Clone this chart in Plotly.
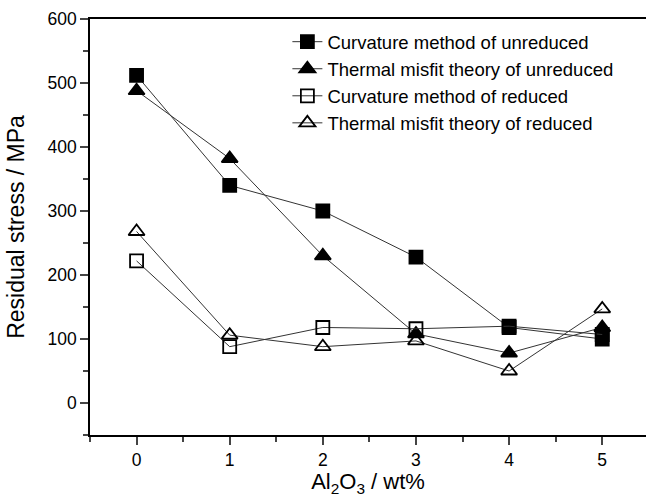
import plotly.graph_objects as go

x = [0, 1, 2, 3, 4, 5]
curv_unred = [512, 340, 300, 228, 118, 100]
therm_unred = [488, 382, 230, 108, 78, 118]
curv_red = [222, 88, 118, 116, 120, 107]
therm_red = [268, 106, 88, 97, 50, 147]

names = ["Curvature method of unreduced", "Thermal misfit theory of unreduced",
         "Curvature method of reduced", "Thermal misfit theory of reduced"]
series = [curv_unred, therm_unred, curv_red, therm_red]
symbols = ["square", "triangle-up", "square-open", "triangle-up-open"]
sizes = [13, 14, 13, 14]

fig = go.Figure()
for n, s, sym, sz in zip(names, series, symbols, sizes):
    fig.add_trace(go.Scatter(
        x=x, y=s, name=n, mode="lines+markers",
        line=dict(color="#333333", width=1),
        marker=dict(symbol=sym, size=sz, color="black",
                    line=dict(color="black", width=1.8)),
    ))

fig.update_layout(
    width=646, height=497,
    margin=dict(l=90, r=0, t=19, b=62),
    paper_bgcolor="white", plot_bgcolor="white",
    font=dict(family="Liberation Sans, Arial, sans-serif", color="black"),
    showlegend=True,
    legend=dict(x=0.355, y=0.99, xanchor="left", yanchor="top",
                font=dict(size=18.5), bgcolor="rgba(0,0,0,0)",
                tracegroupgap=0),
    xaxis=dict(range=[-0.5, 5.47], tickvals=[0, 1, 2, 3, 4, 5],
               showgrid=False, zeroline=False, showline=True, linecolor="black",
               linewidth=1.6, mirror=True, ticks="outside", ticklen=8, tickwidth=1.5,
               tickfont=dict(size=17.5),
               minor=dict(tickvals=[-0.5, 0.5, 1.5, 2.5, 3.5, 4.5], ticks="outside",
                          ticklen=5, tickwidth=1.5),
               title=dict(text="Al<sub>2</sub>O<sub>3</sub> / wt%", font=dict(size=22), standoff=4)),
    yaxis=dict(range=[-50, 600], tickvals=[0, 100, 200, 300, 400, 500, 600],
               showgrid=False, zeroline=False, showline=True, linecolor="black",
               linewidth=1.6, ticks="outside", ticklen=8, tickwidth=1.5,
               tickfont=dict(size=17.5),
               minor=dict(tickvals=[-50, 50, 150, 250, 350, 450, 550], ticks="outside",
                          ticklen=5, tickwidth=1.5),
               title=dict(text="Residual stress / MPa", font=dict(size=23), standoff=16)),
)

fig.write_html("out.html")
